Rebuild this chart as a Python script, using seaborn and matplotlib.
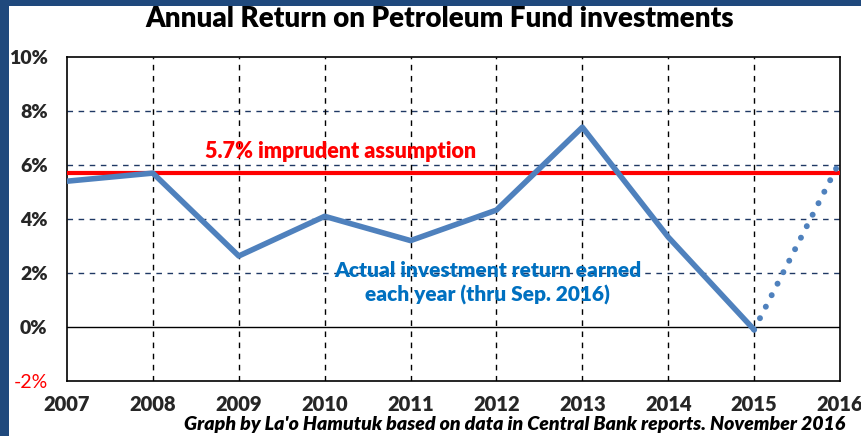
import matplotlib
matplotlib.use("Agg")
import numpy as np
import pandas as pd
import seaborn as sns
import matplotlib.pyplot as plt
from matplotlib.patches import Rectangle

# Annual return on Petroleum Fund investments (%), 2016 is thru September
years = [2007, 2008, 2009, 2010, 2011, 2012, 2013, 2014, 2015, 2016]
returns = [5.4, 5.7, 2.63, 4.1, 3.2, 4.33, 7.4, 3.33, -0.1, 6.15]
assumption = 5.7
yticks = [-2, 0, 2, 4, 6, 8, 10]

df = pd.DataFrame({"year": years, "ret": returns})
actual = df[df.year <= 2015]
partial = df[df.year >= 2015]

sns.set_style("white")
plt.rcParams["font.family"] = ["Lato", "DejaVu Sans"]

fig = plt.figure(figsize=(8.62, 4.36), dpi=100, facecolor="#1F497D")
fig.patches.append(Rectangle((9 / 862, 0), 853 / 862, 430 / 436,
                             transform=fig.transFigure, facecolor="white",
                             edgecolor="none", zorder=-5))
ax = fig.add_axes([67 / 862, 55 / 436, 773 / 862, 324 / 436])
ax.set_zorder(2)

blue = "#4F81BD"
sns.lineplot(data=actual, x="year", y="ret", ax=ax, color=blue, lw=4,
             solid_capstyle="round", zorder=4)
sns.lineplot(data=partial, x="year", y="ret", ax=ax, color=blue, lw=4.3,
             linestyle=(0, (0.01, 2.15)), dash_capstyle="round", zorder=4)
ax.axhline(assumption, color="#FF0000", lw=3, zorder=3)
ax.axhline(0, color="black", lw=1, zorder=2)

ax.set_xlim(2007, 2016)
ax.set_ylim(-2, 10)
ax.set_xticks(years)
ax.set_yticks(yticks)
ax.set_xticklabels([str(y) for y in years], fontweight="heavy", fontsize=14.5)
ax.set_yticklabels([f"{t}%" for t in yticks], fontweight="heavy", fontsize=14)
ax.get_yticklabels()[0].set_color("#FF0000")
ax.get_yticklabels()[0].set_fontweight("normal")
ax.tick_params(axis="x", length=0, pad=10)
ax.tick_params(axis="y", length=0, pad=14)
ax.set_xlabel("")
ax.set_ylabel("")

for y in yticks[2:-1]:
    ax.axhline(y, color="#1F3864", lw=1, ls=(0, (4, 4)), zorder=1)
for x in years[1:-1]:
    ax.axvline(x, color="black", lw=1, ls=(0, (4, 4)), zorder=1)
for s in ax.spines.values():
    s.set_color("black")
    s.set_linewidth(1.2)

ax.text(2010.18, 6.5, "5.7% imprudent assumption", color="#FF0000",
        fontweight="heavy", fontsize=15.5, ha="center", va="center")
ax.text(2011.9, 1.63, "Actual investment return earned\neach year (thru Sep. 2016)",
        color="#0070C0", fontweight="heavy", fontsize=15, ha="center", va="center",
        linespacing=1.25)

fig.text(440 / 862, 1 - 19 / 436, "Annual Return on Petroleum Fund investments",
         ha="center", va="center", fontweight="heavy", fontsize=20, color="black")
fig.text(845 / 862, 1 - 424 / 436,
         "Graph by La'o Hamutuk based on data in Central Bank reports. November 2016",
         ha="right", va="center", fontweight="heavy", style="italic", fontsize=14,
         color="black")

fig.savefig("out.png", dpi=100, facecolor=fig.get_facecolor())
